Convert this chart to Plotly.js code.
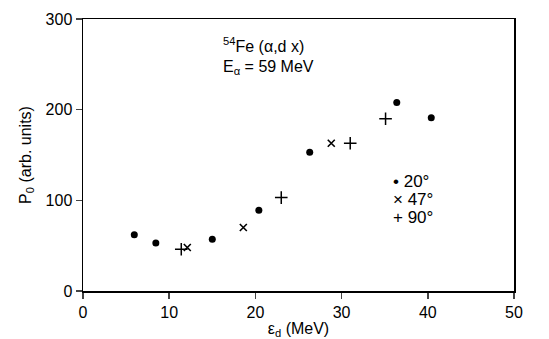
<!DOCTYPE html>
<html><head><meta charset="utf-8">
<script src="https://cdn.plot.ly/plotly-3.0.1.min.js"></script>
<style>body{margin:0;background:#fff}#c{width:549px;height:339px}</style>
</head><body><div id="c"></div>
<script>
const angleLabels = ["20°", "47°", "90°"];
const legendSymbols = ["•", "×", "+"];
const x20 = [5.95, 8.45, 15.0, 20.4, 26.3, 36.4, 40.4];
const y20 = [62, 53, 57, 89, 153, 208, 191];
const x47 = [12.1, 18.6, 28.8];
const y47 = [48, 70, 163];
const x90 = [11.4, 23.0, 31.0, 35.1];
const y90 = [46, 103, 163, 190];
const xTicks = [0, 10, 20, 30, 40, 50];
const yTicks = [0, 100, 200, 300];

const FONT = "Liberation Sans, DejaVu Sans, sans-serif";
const traces = [
  {x: x20, y: y20, name: angleLabels[0], mode: "markers", type: "scatter",
   marker: {symbol: "circle", size: 7, color: "#000"}},
  {x: x47, y: y47, name: angleLabels[1], mode: "markers", type: "scatter",
   marker: {symbol: "x-thin", size: 7, color: "#000", line: {width: 1.6, color: "#000"}}},
  {x: x90, y: y90, name: angleLabels[2], mode: "markers", type: "scatter",
   marker: {symbol: "cross-thin", size: 9, color: "#000", line: {width: 1.5, color: "#000"}}}
];
const legendY = [0.402, 0.337, 0.272];
const legendAnn = angleLabels.map((lab, i) => ({
  xref: "paper", yref: "paper", x: 0.715, y: legendY[i], xanchor: "left", yanchor: "middle",
  showarrow: false, text: legendSymbols[i] + " " + lab, font: {size: 17}
}));
const layout = {
  width: 549, height: 339,
  margin: {l: 83, r: 35, t: 19, b: 48},
  paper_bgcolor: "#fff", plot_bgcolor: "#fff",
  font: {family: FONT, size: 16, color: "#000"},
  showlegend: false,
  xaxis: {range: [0, 50], tickvals: xTicks, ticks: "outside", ticklen: 6, tickwidth: 1.5,
          showgrid: false, zeroline: false, showline: true, linewidth: 1.5, linecolor: "#000",
          mirror: true, tickfont: {size: 16},
          title: {text: "ε<sub>d</sub> (MeV)", font: {size: 16}, standoff: 4}},
  yaxis: {range: [0, 300], tickvals: yTicks, ticks: "outside", ticklen: 6, tickwidth: 1.5,
          showgrid: false, zeroline: false, showline: true, linewidth: 1.5, linecolor: "#000",
          mirror: true, tickfont: {size: 16},
          title: {text: "P<sub>0</sub> (arb. units)", font: {size: 16}, standoff: 10}},
  annotations: [
    {xref: "paper", yref: "paper", x: 0.32, y: 0.905, xanchor: "left", yanchor: "middle",
     showarrow: false, text: "<sup>54</sup>Fe (α,d x)", font: {size: 16}},
    {xref: "paper", yref: "paper", x: 0.32, y: 0.82, xanchor: "left", yanchor: "middle",
     showarrow: false, text: "E<sub>α</sub> = 59 MeV", font: {size: 16}}
  ].concat(legendAnn)
};
Plotly.newPlot("c", traces, layout, {displayModeBar: false, staticPlot: true});
</script></body></html>
